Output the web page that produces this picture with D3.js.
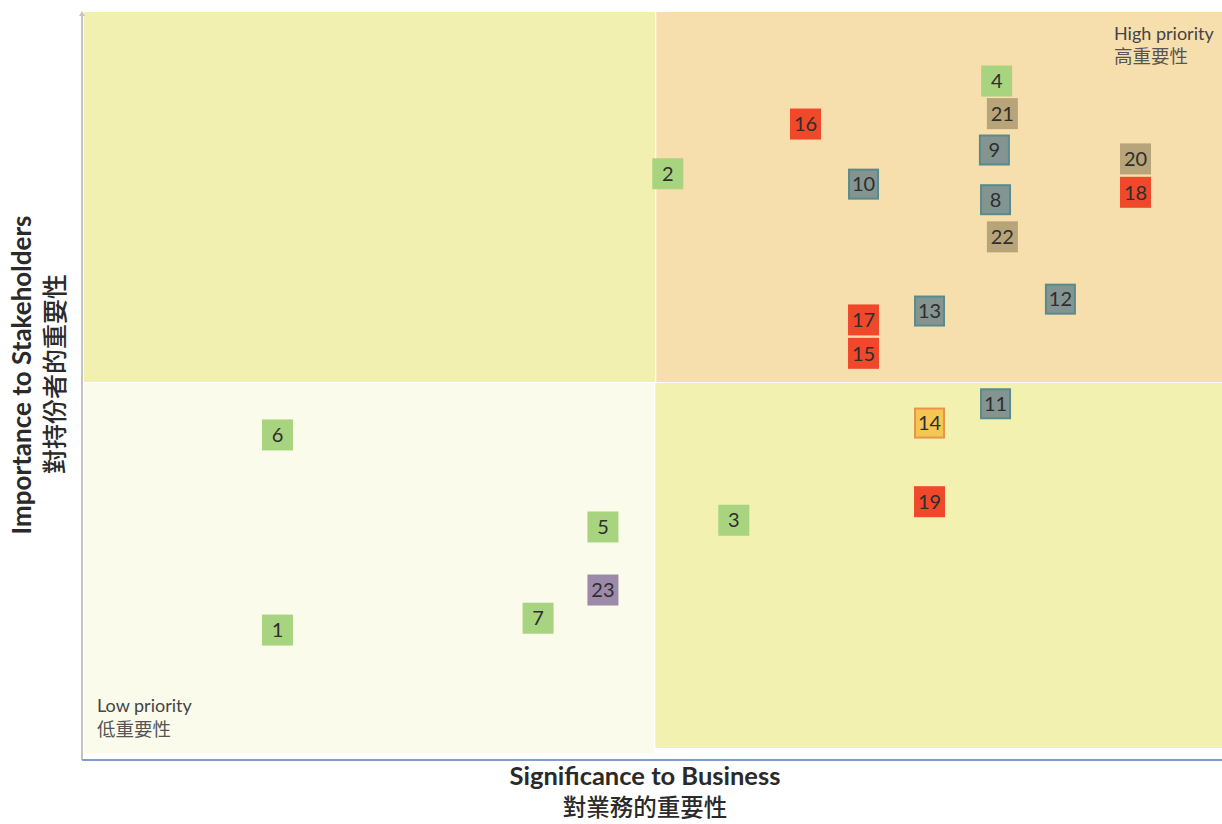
<!DOCTYPE html>
<html><head><meta charset="utf-8">
<script src="https://cdn.jsdelivr.net/npm/d3@7"></script>
<style>
body{margin:0;background:#fff;}
svg{display:block;font-family:Lato,"Noto Sans CJK TC",sans-serif;}
</style></head>
<body><svg id="c" width="1222" height="824"></svg>
<script>
const ids = ["4","21","16","9","20","2","10","18","8","22","12","13","17","15","11","14","19","6","5","3","23","7","1"];
const xs  = [80.2,80.7,63.4,80.0,92.4,51.3,68.5,92.4,80.1,80.7,85.8,74.3,68.5,68.5,80.1,74.3,74.3,17.0,45.6,57.1,45.6,39.9,17.0];
const ys  = [90.7,86.3,84.9,81.4,80.2,78.2,76.8,75.7,74.7,69.7,61.3,59.7,58.5,54.0,47.2,44.6,34.0,43.0,30.6,31.5,22.1,18.3,16.7];
const groups = ["g","t","r","s","t","g","s","r","s","t","s","s","r","r","s","y","r","g","g","g","p","g","g"];
const groupFill = {g:"#a8d47f", t:"#b8a479", r:"#ef482b", s:"#849491", y:"#f5c652", p:"#9d89a9"};
const groupStroke = {g:null, t:null, r:null, s:"#588b8b", y:"#e8944b", p:null};
const xLabel = ["Significance to Business","對業務的重要性"];
const yLabel = ["Importance to Stakeholders","對持份者的重要性"];
const highLabel = ["High priority","高重要性"];
const lowLabel = ["Low priority","低重要性"];
const split = {x:50.2, y:50};

const svg = d3.select("#c");
const x = d3.scaleLinear().domain([0,100]).range([84,1222]);
const y = d3.scaleLinear().domain([0,100]).range([754,12]);

// quadrants
const quads = [
  {x0:0, x1:split.x, y0:split.y, y1:100, fill:"#f2f0b0", dx0:0, dx1:0, dy0:-1, dy1:0},
  {x0:split.x, x1:100, y0:split.y, y1:100, fill:"#f7dfad", dx0:1, dx1:0, dy0:-1, dy1:0},
  {x0:0, x1:split.x, y0:0, y1:split.y, fill:"#fafbeb", dx0:0, dx1:-1, dy0:0, dy1:1},
  {x0:split.x, x1:100, y0:0, y1:split.y, fill:"#f2f1b0", dx0:0, dx1:0, dy0:-5, dy1:1}
];
svg.selectAll("rect.q").data(quads).join("rect").attr("class","q")
  .attr("x", d=>x(d.x0)+d.dx0)
  .attr("width", d=>x(d.x1)+d.dx1 - (x(d.x0)+d.dx0))
  .attr("y", d=>y(d.y1))
  .attr("height", d=>(y(d.y0)+d.dy0) - (y(d.y1)+d.dy1))
  .attr("fill", d=>d.fill);

// axes lines
svg.append("line").attr("x1",82).attr("x2",82).attr("y1",y(100)+1).attr("y2",760)
  .attr("stroke","#c4c4c4").attr("stroke-width",2);
svg.append("path").attr("d","M79,16 L82,11 L85,16 Z").attr("fill","#c4c4c4");
svg.append("line").attr("x1",82).attr("x2",1222).attr("y1",760).attr("y2",760)
  .attr("stroke","#7f9fcf").attr("stroke-width",2);

// markers
const data = ids.map((id,i)=>({id, x:xs[i], y:ys[i], g:groups[i]}));
const S = 31;
const m = svg.selectAll("g.m").data(data).join("g").attr("class","m")
  .attr("transform", d=>`translate(${x(d.x)},${y(d.y)})`);
m.append("rect")
  .attr("x", d=>groupStroke[d.g] ? -S/2+1 : -S/2)
  .attr("y", d=>groupStroke[d.g] ? -S/2+1 : -S/2)
  .attr("width", d=>groupStroke[d.g] ? S-2 : S)
  .attr("height", d=>groupStroke[d.g] ? S-2 : S)
  .attr("fill", d=>groupFill[d.g])
  .attr("stroke", d=>groupStroke[d.g] || "none")
  .attr("stroke-width", 2);
m.append("text").text(d=>d.id)
  .attr("text-anchor","middle").attr("dy","0.36em")
  .attr("font-size",20).attr("fill","#2e2e2e");

// quadrant labels
svg.append("text").attr("x",1114).attr("y",40).attr("font-size",18).attr("fill","#444").text(highLabel[0]);
svg.append("text").attr("x",1114).attr("y",63).attr("font-size",18.5).attr("fill","#555")
  .attr("font-family","'Noto Sans CJK TC'").text(highLabel[1]);
svg.append("text").attr("x",97).attr("y",712).attr("font-size",18).attr("fill","#444").text(lowLabel[0]);
svg.append("text").attr("x",97).attr("y",736).attr("font-size",18.5).attr("fill","#555")
  .attr("font-family","'Noto Sans CJK TC'").text(lowLabel[1]);

// axis titles
svg.append("text").attr("x",645).attr("y",785).attr("text-anchor","middle")
  .attr("font-size",25.5).attr("font-weight","bold").attr("fill","#2a2a2a").text(xLabel[0]);
svg.append("text").attr("x",645).attr("y",816).attr("text-anchor","middle")
  .attr("font-size",23.5).attr("font-weight",500).attr("fill","#2a2a2a")
  .attr("font-family","'Noto Sans CJK TC'").text(xLabel[1]);
svg.append("text").attr("transform","translate(31,375) rotate(-90)").attr("text-anchor","middle")
  .attr("font-size",26).attr("font-weight","bold").attr("fill","#2a2a2a").text(yLabel[0]);
svg.append("text").attr("transform","translate(64,374) rotate(-90)").attr("text-anchor","middle")
  .attr("font-size",25).attr("font-weight",500).attr("fill","#2a2a2a")
  .attr("font-family","'Noto Sans CJK TC'").text(yLabel[1]);
</script></body></html>
